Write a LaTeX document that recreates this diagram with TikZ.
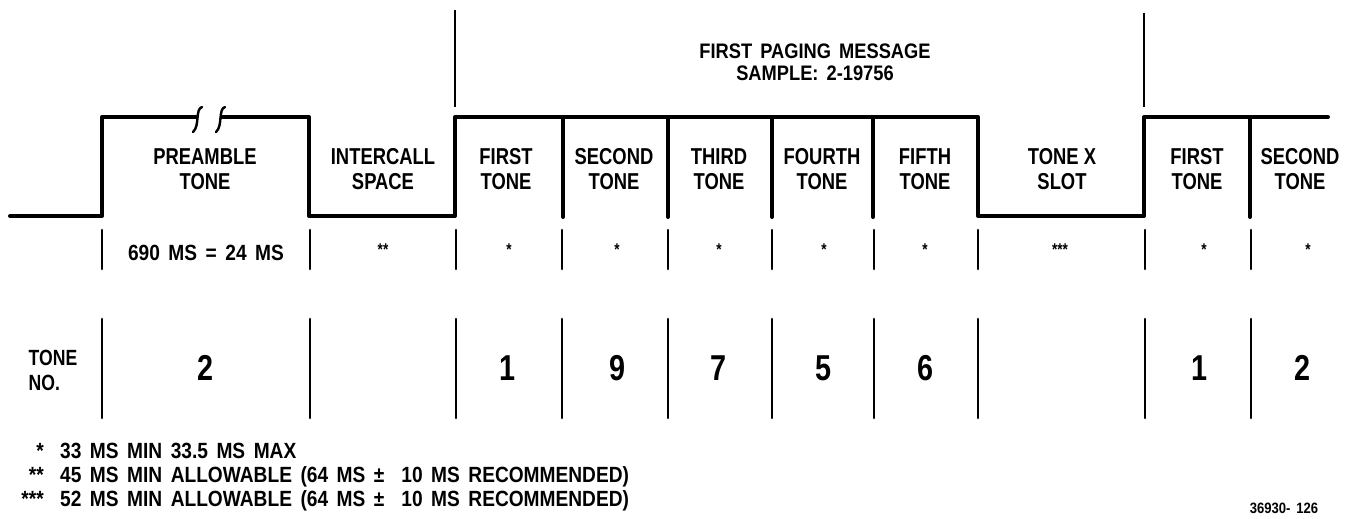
\documentclass[tikz,border=0pt]{standalone}
\usepackage{fontspec}
\newfontfamily\lblfont{Liberation Sans}[FakeStretch=0.8]
\newfontfamily\widefont{Liberation Sans}[FakeStretch=0.87, WordSpace=1.6]
\begin{document}
\begin{tikzpicture}[x=1pt, y=-1pt,
    wave/.style={line width=4pt, line cap=round, line join=round},
    brk/.style={line width=2.4pt, line cap=round},
    sep/.style={line width=2pt},
    tick/.style={line width=2.6pt, line cap=round},
    lbl/.style={font=\lblfont\bfseries\fontsize{23}{25}\selectfont, align=center, inner sep=0pt},
    hdr/.style={font=\widefont\bfseries\fontsize{21}{22}\selectfont, align=center, inner sep=0pt},
    dur/.style={font=\widefont\bfseries\fontsize{22}{24}\selectfont, inner sep=0pt},
    star/.style={font=\lblfont\bfseries\fontsize{17}{18}\selectfont, inner sep=0pt},
    num/.style={font=\lblfont\bfseries\fontsize{36}{38}\selectfont, inner sep=0pt},
    fn/.style={font=\widefont\bfseries\fontsize{22}{24}\selectfont, inner sep=0pt}]
    \useasboundingbox (0,0) rectangle (1350,519);
    % WAVEFORM
    \draw[wave] (10,216) -- (102,216) -- (102,117) -- (196,117);
    \draw[wave] (222,117) -- (309,117) -- (309,216) -- (455,216) -- (455,117)
        -- (978,117) -- (978,216) -- (1144,216) -- (1144,117) -- (1328,117);
    \foreach \x in {563, 668, 772, 873, 1250} {
        \draw[wave] (\x,117) -- (\x,217);
    }
    % Break marks on preamble
    \foreach \x in {197, 220} {
        \draw[brk] (\x+5,107) .. controls (\x-2,109) and (\x+3,126) .. (\x-4,132);
    }
    % Message borders (top)
    \draw[sep] (455,10) -- (455,107);
    \draw[sep] (1144,13) -- (1144,107);
    \node[hdr] (msg) at (815,62) {FIRST PAGING MESSAGE\\SAMPLE: 2-19756};
    % Slot labels
    \foreach \x/\a/\b/\n in {205/PREAMBLE/TONE/pre, 383/INTERCALL/SPACE/ics,
            506/FIRST/TONE/t1, 614/SECOND/TONE/t2, 719/THIRD/TONE/t3,
            822/FOURTH/TONE/t4, 925/FIFTH/TONE/t5, 1062/TONE X/SLOT/tx,
            1197/FIRST/TONE/u1, 1300/SECOND/TONE/u2} {
        \node[lbl] (lbl-\n) at (\x,169.5) {\a\\\b};
    }
    % Duration and tone number rows
    \foreach \x in {102, 310, 456, 562, 668, 772, 874, 978, 1145, 1251} {
        \draw[tick] (\x,230) -- (\x,269);
        \draw[tick] (\x,319) -- (\x,418);
    }
    \node[dur] (dur-pre) at (206,253) {690 MS = 24 MS};
    \foreach \x/\s/\n in {383/**/ics, 509/*/t1, 617/*/t2, 719/*/t3, 824/*/t4,
            925/*/t5, 1060/***/tx, 1204/*/u1, 1308/*/u2} {
        \node[star] (dur-\n) at (\x,250) {\s};
    }
    \node[lbl, font=\lblfont\bfseries\fontsize{22}{25}\selectfont, align=left] (toneno) at (53,370) {TONE\\NO.};
    \foreach \x/\d/\n in {206/2/pre, 508/1/t1, 618/9/t2, 719/7/t3, 824/5/t4,
            925/6/t5, 1199/1/u1, 1302/2/u2} {
        \node[num] (no-\n) at (\x,368) {\d};
    }
    % Footnotes
    \foreach \y/\s/\t/\n in {458/*/33 MS MIN 33.5 MS MAX/a,
            482/**/45 MS MIN ALLOWABLE (64 MS ± \ 10 MS RECOMMENDED)/b,
            506/***/52 MS MIN ALLOWABLE (64 MS ± \ 10 MS RECOMMENDED)/c} {
        \node[fn, anchor=base east] (fs-\n) at (44,\y) {\s};
        \node[fn, anchor=base west] (fn-\n) at (60,\y) {\t};
    }
    \node[font=\widefont\bfseries\fontsize{15}{16}\selectfont, inner sep=0pt] (figno) at (1284,508) {36930- 126};
\end{tikzpicture}
\end{document}
